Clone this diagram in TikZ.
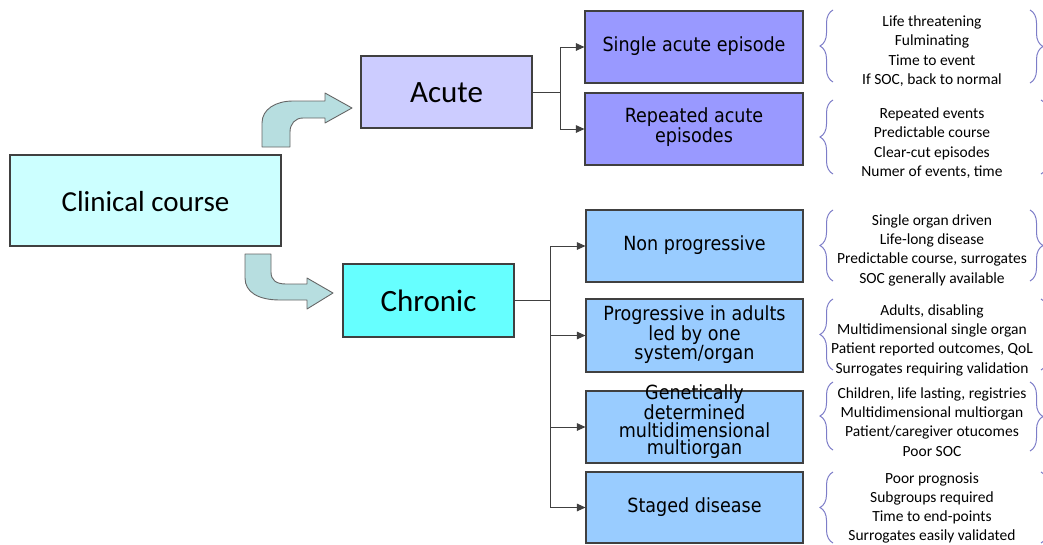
\documentclass[tikz,border=0pt]{standalone}
\usepackage{fontspec}
\setmainfont{Carlito}
\newfontfamily\boxfont[FakeStretch=0.9]{DejaVu Sans}
\usetikzlibrary{arrows.meta,decorations.pathreplacing}

\definecolor{clinfill}{RGB}{204,255,255}
\definecolor{acutefill}{RGB}{204,204,255}
\definecolor{chronfill}{RGB}{102,255,255}
\definecolor{episfill}{RGB}{153,153,255}
\definecolor{stagefill}{RGB}{153,204,255}
\definecolor{bendfill}{RGB}{183,222,224}
\definecolor{bracecol}{RGB}{125,125,200}
\definecolor{edgecol}{RGB}{64,64,64}

\tikzset{
  boxbase/.style={draw=edgecol, line width=1.1pt, inner sep=0pt},
  catlabel/.style={font=\fontsize{31}{31}\selectfont},
  subtext/.style={align=center, inner sep=0pt, font=\boxfont\fontsize{19.5}{17.5}\selectfont},
  notes/.style={align=center, inner sep=0pt, font=\fontsize{15.5}{19.3}\selectfont},
  link/.style={draw=edgecol, line width=1pt},
  linkarrow/.style={link, -{Triangle[length=8.5pt,width=7.5pt]}},
  bentarrow/.style={fill=bendfill, draw=gray!80!black, line width=0.9pt, line join=round},
  leftbrace/.style={draw=bracecol, line width=1pt, decorate, decoration={brace, amplitude=13pt, aspect=0.5}},
}

\begin{document}
\begin{tikzpicture}[x=1pt, y=-1pt]
\useasboundingbox (0,0) rectangle (1043,544);

% main categories
\node[boxbase, fill=clinfill, minimum width=271pt, minimum height=91pt] (clin) at (145.5,200.5) {};
\node[font=\fontsize{29}{29}\selectfont] (clint) at (145.5,202) {Clinical course};

\node[boxbase, fill=acutefill, minimum width=171pt, minimum height=72pt] (acute) at (446.5,92) {};
\node[catlabel] (acutet) at (446.5,93) {Acute};

\node[boxbase, fill=chronfill, minimum width=171pt, minimum height=73pt] (chron) at (428.5,300.5) {};
\node[catlabel] (chront) at (428.5,301) {Chronic};

% bent block arrows from the clinical course box
\draw[bentarrow] (262,147) -- (262,123) .. controls (262,109) and (276,101) .. (293,101)
  -- (325,101) -- (325,93) -- (352,108) -- (325,123) -- (325,118) -- (303,118)
  .. controls (295,118) and (290,124) .. (290,132) -- (290,147) -- cycle;
\draw[bentarrow] (245,254) -- (245,278) .. controls (245,292) and (258,300) .. (280,300)
  -- (307,300) -- (307,309) -- (333,293) -- (307,278) -- (307,284) -- (286,284)
  .. controls (276,284) and (271,280) .. (271,272) -- (271,254) -- cycle;

% acute subtypes
\node[boxbase, fill=episfill, minimum width=218pt, minimum height=72pt] (single) at (694,47) {};
\node[subtext] (singlet) at (694,46) {Single acute episode};
\node[boxbase, fill=episfill, minimum width=218pt, minimum height=72pt] (repeat) at (694,129) {};
\node[subtext] (repeatt) at (694,127) {Repeated acute\\episodes};

% chronic subtypes
\node[boxbase, fill=stagefill, minimum width=217pt, minimum height=72pt] (nonprog) at (694.5,246) {};
\node[subtext] (nonprogt) at (694.5,245) {Non progressive};
\node[boxbase, fill=stagefill, minimum width=217pt, minimum height=73pt] (prog) at (694.5,335.5) {};
\node[subtext] (progt) at (694.5,335) {Progressive in adults\\led by one\\system/organ};
\node[boxbase, fill=stagefill, minimum width=217pt, minimum height=72pt] (genet) at (694.5,427) {};
\node[subtext] (genett) at (694.5,422) {Genetically\\determined\\multidimensional\\multiorgan};
\node[boxbase, fill=stagefill, minimum width=217pt, minimum height=71pt] (staged) at (694.5,507.5) {};
\node[subtext] (stagedt) at (694.5,507) {Staged disease};

% elbow connectors
\coordinate (ajoin) at (560,92);
\draw[link] (acute.east) -- (ajoin);
\draw[linkarrow] (ajoin) |- (single.west);
\draw[linkarrow] (ajoin) |- (repeat.west);

\coordinate (cjoin) at (550,300.5);
\draw[link] (chron.east) -- (cjoin);
\draw[linkarrow] (cjoin) |- (nonprog.west);
\draw[linkarrow] (cjoin) |- (prog.west);
\draw[linkarrow] (cjoin) |- (genet.west);
\draw[linkarrow] (cjoin) |- (staged.west);

% descriptive notes
\node[notes] (n1) at (932,51) {Life threatening\\Fulminating\\Time to event\\If SOC, back to normal};
\node[notes] (n2) at (932,143) {Repeated events\\Predictable course\\Clear-cut episodes\\Numer of events, time};
\node[notes] (n3) at (932,250) {Single organ driven\\Life-long disease\\Predictable course, surrogates\\SOC generally available};
\node[notes] (n4) at (932,340) {Adults, disabling\\Multidimensional single organ\\Patient reported outcomes, QoL\\Surrogates requiring validation};
\node[notes] (n5) at (932,422) {Children, life lasting, registries\\Multidimensional multiorgan\\Patient/caregiver otucomes\\Poor SOC};
\node[notes] (n6) at (932,508) {Poor prognosis\\Subgroups required\\Time to end-points\\Surrogates easily validated};

% braces around the notes
\foreach \top/\bot in {10/82, 100/174, 210/281, 299/370, 382/450, 472/543} {
  \draw[leftbrace] (833,\bot) -- (833,\top);
}
\foreach \top/\bot in {10/83, 210/281, 382/451} {
  \draw[leftbrace] (1030,\top) -- (1030,\bot);
}
\foreach \top/\bot in {100/174, 299/370, 472/543} {
  \draw[leftbrace] (1041,\top) -- (1041,\bot);
}
\end{tikzpicture}
\end{document}
